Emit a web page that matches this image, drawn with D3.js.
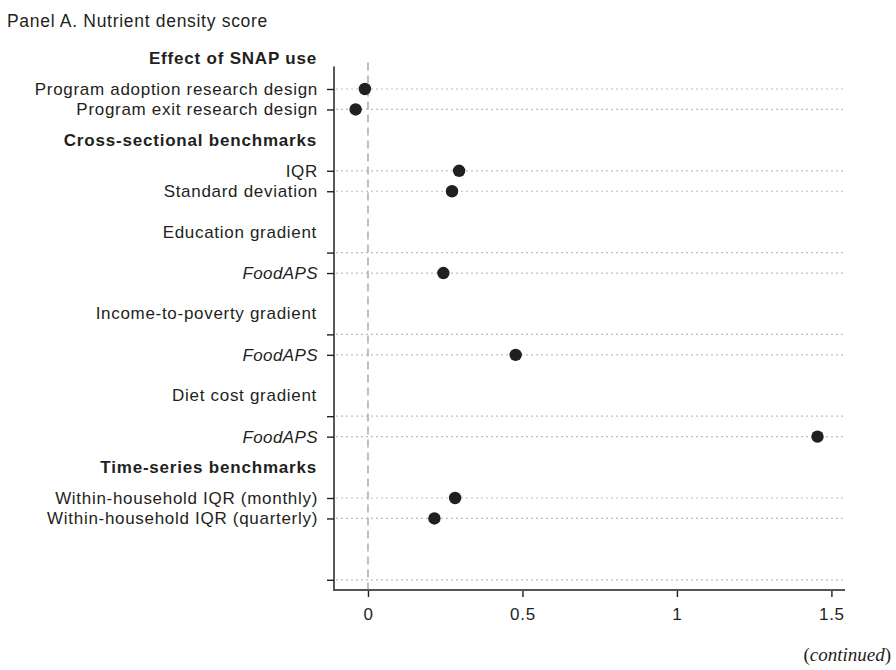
<!DOCTYPE html>
<html>
<head>
<meta charset="utf-8">
<script src="https://cdn.jsdelivr.net/npm/d3@7"></script>
<style>
  body { margin: 0; background: #fff; }
  svg { display: block; font-family: "Liberation Sans", Arial, Helvetica, sans-serif; }
</style>
</head>
<body>
<svg id="chart" width="896" height="670"></svg>
<script>
// ---- data ----
const rowLabels = [
  "Program adoption research design",
  "Program exit research design",
  "IQR",
  "Standard deviation",
  "FoodAPS",
  "FoodAPS",
  "FoodAPS",
  "Within-household IQR (monthly)",
  "Within-household IQR (quarterly)"
];
const rowPos = [0, 1, 4, 5, 9, 13, 17, 20, 21];
const values = [-0.01, -0.04, 0.295, 0.272, 0.244, 0.478, 1.455, 0.282, 0.215];
const italicLabels = ["FoodAPS"];

const headers = ["Effect of SNAP use", "Cross-sectional benchmarks", "Time-series benchmarks"];
const headerPos = [-1.5, 2.5, 18.5];
const subheads = ["Education gradient", "Income-to-poverty gradient", "Diet cost gradient"];
const subheadPos = [7, 11, 15];
const blankTickPos = [8, 12, 16, 24];

const xTicks = [0, 0.5, 1, 1.5];
const xTickLabels = ["0", "0.5", "1", "1.5"];

const title = "Panel A. Nutrient density score";

// ---- chart ----
const FS = 17, LS = "0.7px";
const svg = d3.select("#chart");
const x = d3.scaleLinear().domain([-0.11, 1.544]).range([334, 845]);
const y = d3.scaleLinear().domain([0, 24]).range([89, 579.8]);
const yTop = y(-1.1), yBot = y(24.5);

svg.append("text").attr("x", 7).attr("y", 27)
  .attr("font-size", 17.5).attr("letter-spacing", LS).attr("fill", "#231f20").text(title);

// gridlines
const tickRows = rowPos.concat(blankTickPos);
svg.append("g").selectAll("line").data(tickRows).join("line")
  .attr("x1", 336).attr("x2", 843)
  .attr("y1", d => y(d)).attr("y2", d => y(d))
  .attr("stroke", "#bdbdbd").attr("stroke-width", 1.2)
  .attr("stroke-dasharray", "2,3");

// zero reference line
svg.append("line")
  .attr("x1", x(0)).attr("x2", x(0))
  .attr("y1", yTop - 4).attr("y2", yBot)
  .attr("stroke", "#b0b0b0").attr("stroke-width", 1.6)
  .attr("stroke-dasharray", "8,5");

// y axis
const labelMap = new Map(rowPos.map((p, i) => [p, rowLabels[i]]));
const yAxis = d3.axisLeft(y).tickValues(tickRows)
  .tickSize(7).tickPadding(9)
  .tickFormat(d => labelMap.get(d) || "");
const gy = svg.append("g").attr("transform", `translate(${334},0)`).call(yAxis);
gy.select(".domain").remove();
gy.append("line").attr("x1", 0).attr("x2", 0).attr("y1", yTop).attr("y2", yBot)
  .attr("stroke", "#231f20").attr("stroke-width", 1.5);
gy.selectAll(".tick line").attr("stroke", "#231f20").attr("stroke-width", 1.4);
gy.selectAll(".tick text")
  .attr("font-size", FS).attr("fill", "#231f20")
  .attr("font-family", "'Liberation Sans', Arial, sans-serif")
  .attr("letter-spacing", d => italicLabels.includes(labelMap.get(d)) ? "0.4px" : LS)
  .attr("font-style", d => italicLabels.includes(labelMap.get(d)) ? "italic" : "normal");

// headers and subheads
svg.append("g").selectAll("text").data(headers).join("text")
  .attr("x", 317).attr("y", (d, i) => y(headerPos[i]))
  .attr("dy", "0.32em").attr("text-anchor", "end")
  .attr("font-size", FS).attr("letter-spacing", "0.8px").attr("font-weight", "bold").attr("fill", "#231f20")
  .text(d => d);
svg.append("g").selectAll("text").data(subheads).join("text")
  .attr("x", 317).attr("y", (d, i) => y(subheadPos[i]))
  .attr("dy", "0.32em").attr("text-anchor", "end")
  .attr("font-size", FS).attr("letter-spacing", LS).attr("fill", "#231f20")
  .text(d => d);

// x axis
const xAxis = d3.axisBottom(x).tickValues(xTicks)
  .tickSize(7).tickPadding(11)
  .tickFormat((d, i) => xTickLabels[i]);
const gx = svg.append("g").attr("transform", `translate(0,${yBot})`).call(xAxis);
gx.select(".domain").remove();
gx.append("line").attr("x1", 333).attr("x2", 845).attr("y1", 0).attr("y2", 0)
  .attr("stroke", "#555").attr("stroke-width", 2);
gx.selectAll(".tick line").attr("stroke", "#231f20").attr("stroke-width", 1.4);
gx.selectAll(".tick text").attr("font-size", FS).attr("letter-spacing", LS).attr("fill", "#231f20")
  .attr("font-family", "'Liberation Sans', Arial, sans-serif");

// points
svg.append("g").selectAll("circle").data(values).join("circle")
  .attr("cx", d => x(d)).attr("cy", (d, i) => y(rowPos[i]))
  .attr("r", 6.2).attr("fill", "#231f20");

// continued note
const note = svg.append("text").attr("x", 891).attr("y", 661)
  .attr("text-anchor", "end").attr("font-size", 19)
  .attr("font-family", "'Liberation Serif', 'Times New Roman', serif").attr("fill", "#231f20");
note.append("tspan").text("(");
note.append("tspan").attr("font-style", "italic").text("continued");
note.append("tspan").text(")");
</script>
</body>
</html>
